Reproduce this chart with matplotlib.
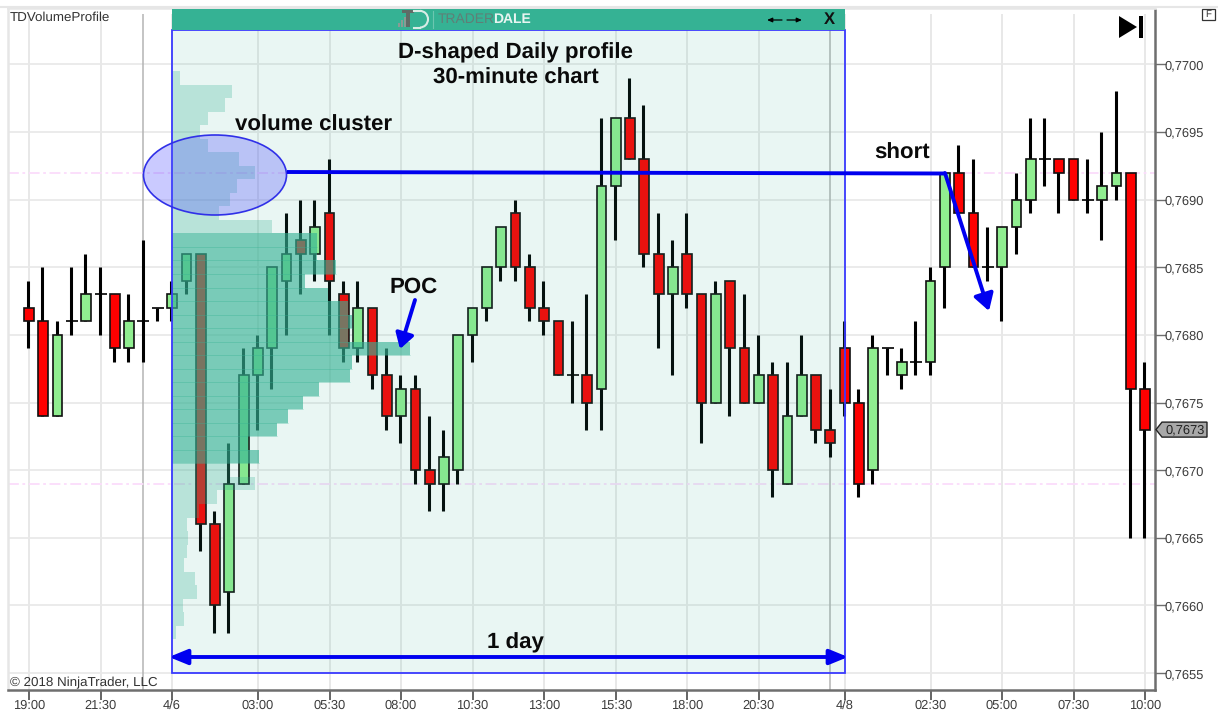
import matplotlib
matplotlib.use("Agg")
import matplotlib.pyplot as plt
from matplotlib.patches import Rectangle, Ellipse, Polygon, Arc
from matplotlib.ticker import FuncFormatter

plt.rcParams['font.family'] = ['Liberation Sans', 'DejaVu Sans']
plt.rcParams['text.hinting'] = 'none'

# ---------- data (prices in pips above 0.7600) ----------
opens = [82,81,74,81,81,83,83,79,81,82,82,84,86,66,61,69,77,79,84,87,86,89,83,79,82,77,74,76,
         70,69,70,80,82,85,89,85,82,81,77,77,76,91,96,93,86,83,86,83,75,84,79,75,77,69,74,77,73,
         79,75,70,79,77,78,78,85,92,89,85,85,88,90,93,93,93,90,90,91,92,76]
closes = [81,74,80,81,83,83,79,81,81,82,83,86,66,60,69,77,79,85,86,86,88,84,79,82,77,74,76,70,
          69,71,80,82,85,88,85,82,81,77,77,75,91,96,93,86,83,85,83,75,83,79,75,77,70,74,77,73,72,
          75,69,79,79,78,78,84,92,89,85,85,88,90,93,93,92,90,90,91,92,76,73]
highs = [84,85,81,85,86,85,83,83,87,82,84,86,86,67,72,79,80,85,89,90,90,93,84,84,82,79,77,77,
         74,73,80,82,85,88,90,86,84,81,81,83,96,96,99,97,89,87,89,83,84,84,83,80,78,78,80,77,76,
         81,76,80,79,79,81,85,92,94,93,88,88,92,96,96,93,93,93,95,98,92,78]
lows = [79,74,74,80,81,80,78,78,78,81,81,83,64,58,58,69,73,76,80,83,84,80,78,78,76,73,72,69,
        67,67,69,78,81,84,84,81,80,77,75,73,73,87,93,85,79,77,82,72,75,74,75,75,68,69,74,72,71,
        74,68,69,77,76,77,77,82,89,85,84,81,86,89,91,89,90,89,87,90,65,65]

tick_positions = [0,5,10,16,21,26,31,36,41,46,51,57,63,68,73,78]
tick_labels = ['19:00','21:30','4/6','03:00','05:30','08:00','10:30','13:00','15:30',
               '18:00','20:30','4/8','02:30','05:00','07:30','10:00']
session_breaks = [8, 56]
price_ticks = [0.7655,0.7660,0.7665,0.7670,0.7675,0.7680,0.7685,0.7690,0.7695,0.7700]

profile_top_pip = 99            # 0.7699, one row per pip going down
profile_widths = [8,60,53,36,28,36,67,83,65,58,47,100,145,145,164,133,156,176,180,176,238,180,178,
                  147,131,116,105,76,87,58,83,45,27,15,16,15,12,23,25,11,12,4]
value_area_pips = (71, 87)      # 0.7671 .. 0.7687
profile_start, profile_end = 10, 57
pink_levels = [0.7692, 0.7669]
last_price = 0.7673

BAR_PX = 14.31
PIP = 0.0001

# ---------- layout ----------
W, H = 1218, 713
fig = plt.figure(figsize=(W/100, H/100), dpi=100, facecolor='white')
L, R, T, B = 8, 1155, 8, 690
ax = fig.add_axes([L/W, 1-B/H, (R-L)/W, (B-T)/H])
xlim = ((L-29)/BAR_PX, (R-29)/BAR_PX)
PY = 13.53
ylim = (0.77-(B-64.3)/PY*PIP, 0.77+(64.3-T)/PY*PIP)
ax.set_xlim(*xlim); ax.set_ylim(*ylim)
ax.patch.set_facecolor('white')

for s in ['left', 'top']:
    ax.spines[s].set_color('#e6e6e6'); ax.spines[s].set_linewidth(1.8)
ax.spines['right'].set_color('#6e6e6e'); ax.spines['right'].set_linewidth(1.8)
ax.spines['bottom'].set_color('#6e6e6e'); ax.spines['bottom'].set_linewidth(1.8)
ax.spines['right'].set_bounds(ylim[0], 0.77+(64.3-10)/PY*PIP)

ax.yaxis.tick_right()
ax.set_yticks(price_ticks)
ax.yaxis.set_major_formatter(FuncFormatter(lambda v, p: f"{v:.4f}".replace('.', ',')))
ax.set_xticks(tick_positions)
ax.set_xticklabels(tick_labels)
ax.tick_params(axis='y', length=8, width=1, color='#6e6e6e', labelsize=9.3, labelcolor='#3c3c3c', pad=-1)
ax.tick_params(axis='x', length=7, width=1.2, color='#4a4a4a', labelsize=9.3, labelcolor='#3c3c3c', pad=0)

# ---------- grid ----------
grid_top = 0.77+(64.3-14)/PY*PIP
ax.hlines(price_ticks, *xlim, color='#e8e8e8', lw=1.2, zorder=1)
ax.vlines(tick_positions, ylim[0], grid_top, color='#e8e8e8', lw=1.4, zorder=1)
ax.vlines(session_breaks, ylim[0], grid_top, color='#b4b4b4', lw=1.1, zorder=1.1)
ax.hlines(pink_levels, *xlim, color='#fbdcfb', lw=1.3, ls=(0, (6, 2, 1.5, 2)), zorder=1.2)

# ---------- candles ----------
for i, (o, c, h, l) in enumerate(zip(opens, closes, highs, lows)):
    o_, c_, h_, l_ = 0.76+o*PIP, 0.76+c*PIP, 0.76+h*PIP, 0.76+l*PIP
    ax.vlines(i-0.06, l_, h_, color='black', lw=2.2, zorder=2)
    if o == c:
        ax.hlines(o_, i-0.42, i+0.42, color='black', lw=1.2, zorder=2)
    else:
        col = '#90ee90' if c > o else '#ff0000'
        ax.bar(i, abs(c_-o_), bottom=min(o_, c_), width=0.68, color=col,
               edgecolor='#101010', linewidth=1.2, zorder=3)

# ---------- day box and volume profile ----------
day_width = profile_end - profile_start
box_top = 0.77+(64.3-30)/PY*PIP
ax.add_patch(Rectangle((profile_start, 0.7655), day_width, box_top-0.7655,
                       facecolor='#35b294', alpha=0.105, edgecolor='none', zorder=4))
ax.add_patch(Rectangle((profile_start, 0.7655), day_width, box_top-0.7655,
                       facecolor='none', edgecolor='#3a3aff', lw=1.3, zorder=8))
for k, w in enumerate(profile_widths):
    pip = profile_top_pip - k
    inside = value_area_pips[0] <= pip <= value_area_pips[1]
    ax.barh(0.76+pip*PIP, w/BAR_PX, height=PIP, left=profile_start,
            color='#35b294', alpha=0.62 if inside else 0.27, linewidth=0, zorder=5)
    if inside:
        ax.hlines(0.76+(pip-0.5)*PIP, profile_start, profile_start+w/BAR_PX,
                  color='#35b294', lw=0.6, alpha=0.4, zorder=5.1)

# ---------- overlay (pixel coordinates) for annotations and chrome ----------
ov = fig.add_axes([0, 0, 1, 1], facecolor='none')
ov.set_xlim(0, W); ov.set_ylim(H, 0); ov.axis('off')

# header
ov.add_patch(Rectangle((172, 9), 673, 21, facecolor='#35b294', edgecolor='none'))
for x0, hgt in [(398, 4), (401, 7), (404, 10)]:
    ov.add_patch(Rectangle((x0, 27-hgt), 2, hgt, facecolor='#8a9a94', edgecolor='none'))
ov.add_patch(Rectangle((406, 11), 4, 16, facecolor='#5f6b66', edgecolor='none'))
ov.add_patch(Rectangle((402, 10), 12, 2.5, facecolor='#5f6b66', edgecolor='none'))
ov.plot([414, 420], [11, 11], color='#d8ece6', lw=1.5)
ov.plot([414, 420], [27.5, 27.5], color='#d8ece6', lw=1.5)
ov.add_patch(Arc((420, 19.2), 16, 16.6, theta1=-90, theta2=90, color='#d8ece6', lw=1.5))
ov.plot([433, 433], [11, 28], color='#6cc6b0', lw=0.8)
ov.text(438, 19, 'TRADER', fontsize=10, color='#5f7f77', ha='left', va='center')
ov.text(493, 19, 'DALE', fontsize=10, color='#e8f5f1', ha='left', va='center', weight='bold')
small_arrow = dict(arrowstyle='-|>,head_width=0.13,head_length=0.3', color='black', lw=0.9, shrinkA=0, shrinkB=0)
ov.annotate('', (767, 20), (782, 20), arrowprops=small_arrow)
ov.annotate('', (802, 20), (787, 20), arrowprops=small_arrow)
ov.text(829, 19.5, 'X', fontsize=12, color='#111111', weight='bold', ha='center', va='center')

# titles
bold = dict(weight='bold', color='#0a0a0a', ha='center', va='center', fontsize=16)
ov.text(515, 53, 'D-shaped Daily profile', **bold)
ov.text(516, 78, '30-minute chart', **bold)
ov.text(314, 125, 'volume cluster', **bold)
ov.text(414, 287, 'POC', **bold)
ov.text(902, 153, 'short', **bold)
ov.text(515, 643, '1 day', **bold)

# cluster ellipse
ov.add_patch(Ellipse((215, 175), 143, 80, facecolor='#5050ff', alpha=0.3, edgecolor='none'))
ov.add_patch(Ellipse((215, 175), 143, 80, facecolor='none', edgecolor='#3030e8', lw=1.2))

# blue level lines and arrows
ov.plot([287, 945], [172, 173.5], color='#0000ee', lw=2.8, solid_capstyle='butt')
arrow = dict(color='#0000f0', lw=2.8, shrinkA=0, shrinkB=0)
ov.annotate('', (989, 311), (945, 173), arrowprops=dict(arrowstyle='-|>,head_width=0.6,head_length=1.0', **arrow))
ov.annotate('', (400, 349), (415, 300), arrowprops=dict(arrowstyle='-|>,head_width=0.55,head_length=0.9', **arrow))
ov.annotate('', (169, 657), (848, 657), arrowprops=dict(arrowstyle='<|-|>,head_width=0.45,head_length=1.1', **arrow))

# misc text
ov.text(10, 18, 'TDVolumeProfile', fontsize=9.6, color='#333333', ha='left', va='center')
ov.text(10, 683, '\u00a9 2018 NinjaTrader, LLC', fontsize=9.6, color='#333333', ha='left', va='center')

# skip-to-end icon and F button
ov.add_patch(Polygon([(1119, 16), (1119, 38), (1137, 27)], facecolor='black', edgecolor='none'))
ov.add_patch(Rectangle((1139, 16), 4, 22, facecolor='black', edgecolor='none'))
ov.add_patch(Rectangle((1202, 9), 13, 11, facecolor='white', edgecolor='#333333', lw=0.9))
ov.text(1208.5, 14.5, 'F', fontsize=7, color='#333333', ha='center', va='center')
ov.plot([0, W], [7, 7], color='#e6e6e6', lw=1.5)

# last price tag
tag_y = 64.3 + (0.77-last_price)/PIP*PY
ov.add_patch(Polygon([(1156, tag_y), (1162, tag_y-7.5), (1207, tag_y-7.5), (1207, tag_y+7.5), (1162, tag_y+7.5)],
                     facecolor='#a8a8a8', edgecolor='#222222', lw=1))
ov.text(1185, tag_y, f"{last_price:.4f}".replace('.', ','), fontsize=9.3, color='#222222', ha='center', va='center')

fig.savefig('out.png', dpi=100)
